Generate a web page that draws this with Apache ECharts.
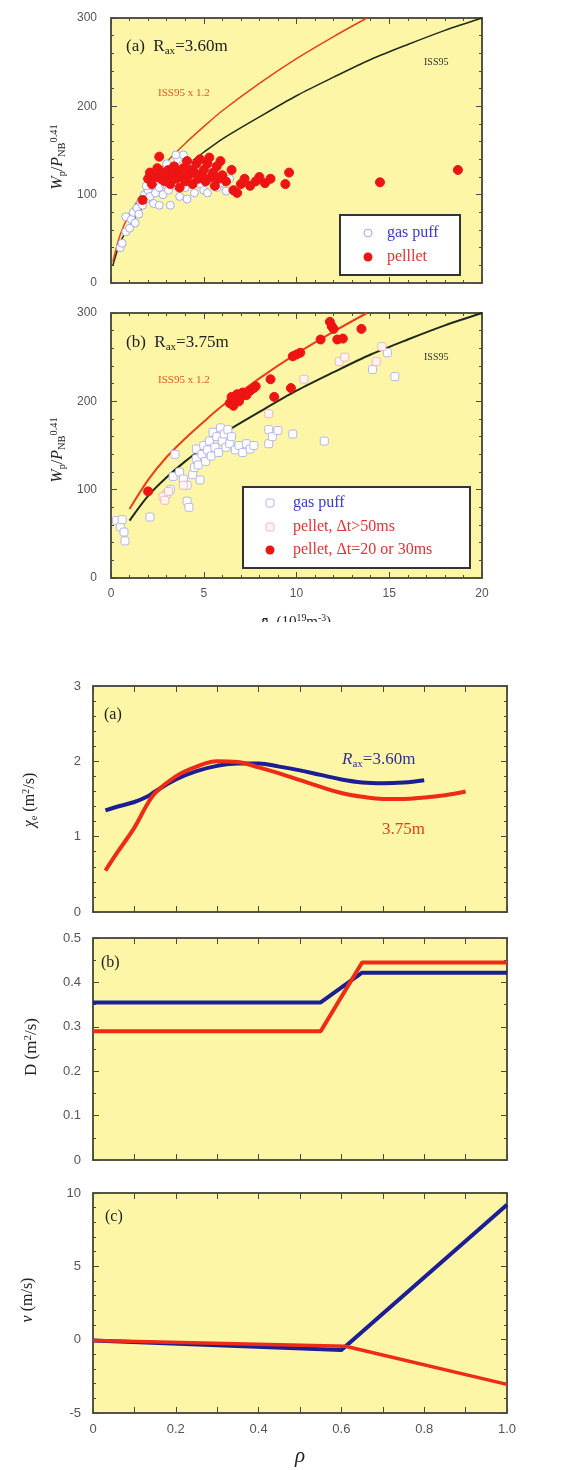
<!DOCTYPE html>
<html><head><meta charset="UTF-8">
<title>ISS95 / transport profiles</title>
<script src="https://cdn.jsdelivr.net/npm/echarts@6/dist/echarts.min.js"></script>
<style>
  *{ margin:0; padding:0; }
  body{ background:#fff; }
  #chart{ width:569px; height:1470px; }
</style>
</head>
<body>
<div id="chart"></div>
<script>
// ---- top panels: ISS95 scaling curves
var issN   = [0.1, 0.5, 1, 2, 3, 4, 5, 6, 8, 10, 12, 14, 16, 18, 20];
var issW   = [20, 46, 65, 93, 114, 132, 148, 163, 188, 212, 233, 253, 270, 286, 300];
var iss12N = [0.1, 0.5, 1, 2, 3, 4, 5, 6, 8, 10, 12, 13.8];
var iss12W = [24, 55, 78, 111, 137, 158, 177, 195, 226, 254, 279, 300];

// (a) Rax=3.60m
var gasA = [[0.5,40],[0.6,45],[0.8,58],[0.8,75],[1.0,62],[1.1,72],[1.2,80],[1.3,68],[1.4,85],[1.5,78],
  [1.6,92],[1.7,88],[1.8,100],[1.9,95],[2.0,105],[2.1,98],[2.2,110],[2.3,90],[2.4,102],[2.5,115],
  [2.6,108],[2.7,120],[2.8,100],[2.9,112],[3.0,125],[3.1,105],[3.2,88],[3.3,118],[3.4,130],[3.5,110],
  [3.6,140],[3.7,98],[3.8,122],[3.9,145],[4.0,108],[4.2,115],[4.3,135],[4.5,102],[4.6,125],[4.8,112],
  [5.0,105],[5.2,102],[5.3,118],[5.5,130],[5.7,108],[5.9,113],[6.0,122],[6.2,104],[6.4,118],[3.0,135],
  [2.4,125],[1.9,110],[4.1,95],[3.5,145],[2.6,88]];
var pelA = [[1.7,94],[2.0,118],[2.1,125],[2.2,112],[2.4,120],[2.5,130],[2.6,143],[2.7,118],[2.8,125],[2.9,115],
  [3.0,122],[3.1,128],[3.2,112],[3.3,120],[3.4,132],[3.5,118],[3.6,125],[3.7,108],[3.8,120],[3.9,130],
  [4.0,115],[4.1,138],[4.2,122],[4.3,128],[4.4,112],[4.5,125],[4.6,135],[4.7,118],[4.8,140],[4.9,122],
  [5.0,128],[5.1,115],[5.2,135],[5.3,142],[5.4,120],[5.5,125],[5.6,110],[5.7,132],[5.8,118],[5.9,138],
  [6.0,122],[6.2,115],[6.5,128],[6.6,105],[6.8,102],[7.0,112],[7.2,118],[7.5,110],[7.8,115],[8.0,120],
  [8.3,113],[8.6,118],[9.4,112],[9.6,125],[14.5,114],[18.7,128]];

// (b) Rax=3.75m
var gasB = [[0.3,65],[0.5,58],[0.6,66],[0.7,52],[0.75,42],[2.1,69],[3.0,95],[3.2,100],[3.35,115],[3.45,140],
  [3.7,120],[3.9,112],[4.1,105],[4.1,87],[4.2,80],[4.4,117],[4.5,125],[4.6,135],[4.6,146],[4.7,128],
  [4.8,111],[4.9,140],[5.0,150],[5.1,132],[5.2,145],[5.3,155],[5.4,138],[5.5,165],[5.6,148],[5.7,160],
  [5.8,142],[5.9,170],[6.0,155],[6.1,163],[6.2,148],[6.3,168],[6.4,152],[6.5,160],[6.7,145],[6.9,150],
  [7.1,142],[7.3,152],[7.5,146],[7.7,150],[8.5,168],[8.5,152],[8.7,160],[9.0,167],[9.8,163],[11.5,155],
  [14.1,236],[14.9,255],[15.3,228]];
var pinkB = [[2.8,92],[2.9,88],[3.1,98],[3.9,105],[8.5,186],[10.4,225],[12.3,245],[12.6,250],[14.3,245],[14.6,262]];
var redB = [[2.0,98],[6.4,198],[6.5,205],[6.6,195],[6.7,202],[6.8,208],[6.9,200],[7.0,205],[7.1,210],[7.3,207],
  [7.5,212],[7.7,215],[7.8,217],[8.6,225],[8.8,205],[9.7,215],[9.8,251],[10.0,253],[10.2,255],[11.3,270],
  [11.8,290],[11.9,285],[12.0,282],[12.2,270],[12.5,271],[13.5,282]];

// ---- bottom panels: profiles vs rho
var chiRho  = [0.03,0.06,0.1,0.13,0.15,0.2,0.25,0.3,0.35,0.4,0.45,0.5,0.55,0.6,0.65,0.7,0.75,0.8,0.85,0.9];
var chiBlue = [1.35,1.40,1.46,1.53,1.60,1.76,1.87,1.94,1.97,1.97,1.93,1.88,1.82,1.76,1.72,1.71,1.72,1.75];
var chiRed  = [0.55,0.80,1.12,1.42,1.58,1.80,1.93,2.00,1.99,1.92,1.84,1.75,1.66,1.58,1.53,1.50,1.50,1.52,1.55,1.60];
var dRho  = [0, 0.55, 0.65, 1.0];
var dBlue = [0.355, 0.355, 0.422, 0.422];
var dRed  = [0.29, 0.29, 0.445, 0.445];
var vRhoBlue = [0, 0.6, 1.0];
var vBlue    = [-0.05, -0.7, 9.2];
var vRhoRed  = [0, 0.61, 1.0];
var vRed     = [-0.05, -0.45, -3.05];

function zip(xs, ys){
  var out = [];
  for (var i = 0; i < ys.length; i++) out.push([xs[i], ys[i]]);
  return out;
}

var FRAME = '#4b4b3c';
var YELLOW = '#fdf6a7';
var SERIF = 'Liberation Serif';

var grids = [
  {left:111, top:18,   width:371, height:265},
  {left:111, top:313,  width:371, height:265},
  {left:93,  top:686,  width:414, height:226},
  {left:93,  top:938,  width:414, height:222},
  {left:93,  top:1193, width:414, height:220}
];
grids.forEach(function(g){
  g.show = true; g.backgroundColor = YELLOW; g.borderColor = FRAME; g.borderWidth = 1.5;
});

// x: [min,max,interval,minorSplit,showLabels], y: [min,max,interval,minorSplit]
var axDef = [
  {x:[0,20,5,5,false], y:[0,300,100,5]},
  {x:[0,20,5,5,true],  y:[0,300,100,5]},
  {x:[0,1,0.1,0,false], y:[0,3,1,5]},
  {x:[0,1,0.1,0,false], y:[0,0.5,0.1,2]},
  {x:[0,1,0.1,0,true],  y:[-5,10,5,5]}
];

function rhoFmt(v){
  var k = Math.round(v*10);
  if (k % 2) return '';
  return k === 0 ? '0' : (k/10).toFixed(1);
}
function dFmt(v){ return v === 0 ? '0' : v.toFixed(1); }

var xAxes = [], yAxes = [];
axDef.forEach(function(d, gi){
  var bottom = gi >= 2;
  var labelStyle = {color:'#555', fontFamily:'Liberation Sans', fontSize: bottom ? 13 : 12};
  ['bottom','top'].forEach(function(pos){
    xAxes.push({
      gridIndex:gi, type:'value', position:pos,
      min:d.x[0], max:d.x[1], interval:d.x[2],
      axisLine:{show:true, onZero:false, lineStyle:{color:FRAME, width:1.5}},
      axisTick:{show:true, inside:true, length:6, lineStyle:{color:FRAME}},
      minorTick:{show:d.x[3] > 0, splitNumber:d.x[3] || 5, length:3, lineStyle:{color:FRAME}},
      splitLine:{show:false},
      axisLabel:Object.assign({show: pos === 'bottom' && d.x[4], margin:10,
        formatter: bottom ? rhoFmt : null}, labelStyle)
    });
  });
  ['left','right'].forEach(function(pos){
    yAxes.push({
      gridIndex:gi, type:'value', position:pos,
      min:d.y[0], max:d.y[1], interval:d.y[2],
      axisLine:{show:true, onZero:false, lineStyle:{color:FRAME, width:1.5}},
      axisTick:{show:true, inside:true, length:6, lineStyle:{color:FRAME}},
      minorTick:{show:true, splitNumber:d.y[3], length:3, lineStyle:{color:FRAME}},
      splitLine:{show:false},
      axisLabel:Object.assign({show: pos === 'left', margin: bottom ? 12 : 14,
        formatter: gi === 3 ? dFmt : null}, labelStyle)
    });
  });
});

function lineSeries(gi, data, color, width, smooth){
  return {type:'line', xAxisIndex:gi*2, yAxisIndex:gi*2, data:data, showSymbol:false,
    smooth:smooth, lineStyle:{color:color, width:width}, z:2, silent:true};
}
function scatterSeries(gi, data, symbol, size, fill, border){
  return {type:'scatter', xAxisIndex:gi*2, yAxisIndex:gi*2, data:data, symbol:symbol,
    symbolSize:size, itemStyle:{color:fill, borderColor:border, borderWidth:1, opacity:1}, z:3};
}

var RED_LINE = '#e8401a', BLACK_LINE = '#1f2a1a';
var BLUE_BOLD = '#1c1e96', RED_BOLD = '#ee2c14';
var PT_RED = '#ee1414';

var series = [
  lineSeries(0, zip(issN, issW), BLACK_LINE, 1.5, 0.3),
  lineSeries(0, zip(iss12N, iss12W), RED_LINE, 1.5, 0.3),
  scatterSeries(0, gasA, 'circle', 8, '#ffffff', '#a6aaf0'),
  scatterSeries(0, pelA, 'circle', 9, PT_RED, PT_RED),

  lineSeries(1, zip(issN.slice(2), issW.slice(2)), BLACK_LINE, 2, 0.3),
  lineSeries(1, zip(iss12N.slice(2), iss12W.slice(2)), RED_LINE, 2, 0.3),
  scatterSeries(1, gasB, 'roundRect', 8, '#ffffff', '#b4b6ee'),
  scatterSeries(1, pinkB, 'roundRect', 8, '#fff4f4', '#f2b8b8'),
  scatterSeries(1, redB, 'circle', 9, PT_RED, PT_RED),

  lineSeries(2, zip(chiRho, chiBlue), BLUE_BOLD, 4, 0.4),
  lineSeries(2, zip(chiRho, chiRed), RED_BOLD, 4, 0.4),
  lineSeries(3, zip(dRho, dBlue), BLUE_BOLD, 4, false),
  lineSeries(3, zip(dRho, dRed), RED_BOLD, 4, false),
  lineSeries(4, zip(vRhoBlue, vBlue), BLUE_BOLD, 4, false),
  lineSeries(4, zip(vRhoRed, vRed), RED_BOLD, 3.5, false)
];

var rich = {
  i:{fontFamily:SERIF, fontStyle:'italic', fontSize:17, fill:'#222'},
  n:{fontFamily:SERIF, fontSize:17, fill:'#222'},
  s:{fontFamily:SERIF, fontSize:11, fill:'#222', padding:[8,0,0,0]},
  p:{fontFamily:SERIF, fontSize:11, fill:'#222', padding:[0,0,8,0]}
};
function txt(x, y, text, opt){
  opt = opt || {};
  return {type:'text', x:x, y:y, rotation:opt.rot || 0, z:50,
    style:{text:text, fontFamily:SERIF, fontSize:opt.size || 16, fontStyle:opt.italic ? 'italic' : 'normal',
      fill:opt.color || '#222', align:opt.align || 'left', verticalAlign:'middle', rich:opt.rich}};
}
function richCol(c, base){
  var r = {};
  Object.keys(rich).forEach(function(k){ r[k] = Object.assign({}, rich[k], {fill:c}, base ? {fontSize: k==='s'||k==='p' ? base*0.65 : base} : {}); });
  return r;
}
var BLUE_TXT = '#3a3ad0', RED_TXT = '#e23434', ORANGE_TXT = '#e5551f';

var graphics = [
  // panel (a) top
  txt(126, 47, '{n|(a)  R}{s|ax}{n|=3.60m}', {rich:richCol('#222', 17)}),
  txt(424, 62, 'ISS95', {size:10, color:'#333'}),
  txt(158, 93, 'ISS95 x 1.2', {size:11, color:ORANGE_TXT}),
  txt(58, 157, '{i|W}{s|p}{n|/}{i|P}{s|NB}{p|0.41}', {rot:Math.PI/2, align:'center', rich:richCol('#222', 16)}),
  {type:'rect', shape:{x:340, y:215, width:120, height:60}, z:40,
    style:{fill:'#fff', stroke:'#333', lineWidth:2}},
  {type:'circle', shape:{cx:368, cy:233, r:4}, z:45, style:{fill:'#fff', stroke:'#a6aaf0', lineWidth:1}},
  {type:'circle', shape:{cx:368, cy:257, r:4.5}, z:45, style:{fill:PT_RED}},
  txt(387, 233, 'gas puff', {size:16, color:BLUE_TXT}),
  txt(387, 257, 'pelllet', {size:16, color:RED_TXT}),

  // panel (b) top
  txt(126, 343, '{n|(b)  R}{s|ax}{n|=3.75m}', {rich:richCol('#222', 17)}),
  txt(424, 357, 'ISS95', {size:10, color:'#333'}),
  txt(158, 380, 'ISS95 x 1.2', {size:11, color:ORANGE_TXT}),
  txt(58, 450, '{i|W}{s|p}{n|/}{i|P}{s|NB}{p|0.41}', {rot:Math.PI/2, align:'center', rich:richCol('#222', 16)}),
  {type:'rect', shape:{x:243, y:487, width:227, height:81}, z:40,
    style:{fill:'#fff', stroke:'#333', lineWidth:2}},
  {type:'rect', shape:{x:266, y:499, width:8, height:8, r:2}, z:45, style:{fill:'#fff', stroke:'#b4b6ee', lineWidth:1}},
  {type:'rect', shape:{x:266, y:523, width:8, height:8, r:2}, z:45, style:{fill:'#fff4f4', stroke:'#f2b8b8', lineWidth:1}},
  {type:'circle', shape:{cx:270, cy:550, r:4.5}, z:45, style:{fill:PT_RED}},
  txt(293, 503, 'gas puff', {size:16, color:BLUE_TXT}),
  txt(293, 527, 'pellet, \u0394t>50ms', {size:16, color:RED_TXT}),
  txt(293, 550, 'pellet, \u0394t=20 or 30ms', {size:16, color:RED_TXT}),
  txt(296, 622, '{i|n\u0304}{s|e}{n| (10}{p|19}{n|m}{p|-3}{n|)}', {align:'center', rich:richCol('#222', 15)}),
  {type:'rect', shape:{x:200, y:622, width:200, height:30}, z:60, style:{fill:'#fff'}},

  // bottom panels
  txt(104, 715, '(a)', {size:16}),
  txt(101, 963, '(b)', {size:16}),
  txt(105, 1217, '(c)', {size:16}),
  txt(342, 760, '{i|R}{s|ax}{n|=3.60m}', {rich:richCol('#30309a', 17)}),
  txt(382, 830, '3.75m', {size:17, color:'#e0401a'}),
  txt(30, 800, '{i|\u03c7}{s|e}{n| (m}{p|2}{n|/s)}', {rot:Math.PI/2, align:'center', rich:richCol('#222', 16)}),
  txt(32, 1047, '{n|D (m}{p|2}{n|/s)}', {rot:Math.PI/2, align:'center', rich:richCol('#222', 17)}),
  txt(28, 1300, '{i|v}{n| (m/s)}', {rot:Math.PI/2, align:'center', rich:richCol('#222', 16)}),
  txt(300, 1456, '\u03c1', {size:21, italic:true, align:'center'})
];

var chart = echarts.init(document.getElementById('chart'), null, {renderer:'canvas'});
chart.setOption({
  animation:false,
  grid:grids,
  xAxis:xAxes,
  yAxis:yAxes,
  series:series,
  graphic:graphics
});
</script>
</body></html>
